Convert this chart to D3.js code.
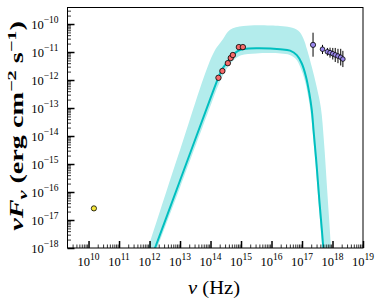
<!DOCTYPE html>
<html>
<head>
<meta charset="utf-8">
<script src="https://cdn.jsdelivr.net/npm/d3@7"></script>
<style>
  body { margin: 0; background: #ffffff; }
  svg { display: block; }
</style>
</head>
<body>
<svg id="chart"></svg>
<script>
// model curve (nu in Hz, nuFnu in erg cm^-2 s^-1)
const modelNu = [1.0e12, 1.0e13, 1.0e14, 1.78e14, 2.51e14, 3.72e14, 5.37e14, 7.94e14, 1.26e15, 3.98e15,
    1.91e16, 4.07e16, 6.76e16, 9.77e16, 1.35e17, 1.74e17, 2.09e17, 2.40e17, 2.99e17, 3.76e17, 5.01e17, 6.17e17]
const modelFlux = [2.95e-19, 2.57e-16, 2.24e-13, 1.17e-12, 2.63e-12, 4.68e-12, 7.59e-12, 1.10e-11, 1.29e-11, 1.35e-11,
    1.26e-11, 1.12e-11, 7.76e-12, 3.98e-12, 1.32e-12, 3.31e-13, 8.51e-14, 1.51e-14, 1.0e-15, 4.07e-17, 1.0e-18, 3.16e-20]

// uncertainty band edges
const bandUpperNu = [8.9e11, 1.0e12, 1.0e13, 1.23e14, 2.51e14, 4.37e14, 1.2e15, 1.91e16, 4.07e16, 7.6e16,
    1.1e17, 1.48e17, 2.09e17, 3.02e17, 4.17e17, 5.25e17, 6.76e17, 8.9e17, 1.05e18]
const bandUpperFlux = [1.0e-18, 1.45e-18, 3.16e-15, 8.9e-12, 2.8e-11, 6.2e-11, 8.5e-11, 8.5e-11, 7.6e-11, 5.75e-11,
    3.1e-11, 1.17e-11, 2.95e-12, 5.75e-13, 1.0e-13, 6.3e-15, 1.0e-16, 1.0e-18, 3.16e-20]
const bandLowerNu = [1.0e12, 1.78e12, 1.0e13, 1.0e14, 1.78e14, 3.16e14, 5.62e14, 1.0e15, 3.16e15, 2.0e16,
    3.98e16, 6.3e16, 8.9e16, 1.26e17, 1.66e17, 2.0e17, 2.29e17, 2.82e17, 3.55e17, 4.57e17, 5.62e17]
const bandLowerFlux = [1.78e-19, 1.0e-18, 1.45e-16, 1.2e-13, 6.3e-13, 2.24e-12, 5.0e-12, 7.6e-12, 8.9e-12, 8.9e-12,
    7.9e-12, 5.6e-12, 2.8e-12, 8.9e-13, 2.0e-13, 5.0e-14, 1.0e-14, 7.9e-16, 3.16e-17, 1.0e-18, 3.16e-20]

// radio point
const radioNu = [1.5e10]
const radioFlux = [2.6e-17]

// optical / UV points
const optNu = [1.82e14, 2.45e14, 3.7e14, 4.6e14, 5.4e14, 8.5e14, 1.15e15]
const optFlux = [1.2e-12, 2.1e-12, 4.0e-12, 6.1e-12, 7.8e-12, 1.5e-11, 1.5e-11]

// X-ray points with errors
const xrayNu = [2.3e17, 4.7e17, 6.8e17, 8.3e17, 1.02e18, 1.23e18, 1.51e18, 1.86e18, 2.19e18]
const xrayFlux = [1.8e-11, 1.26e-11, 1.02e-11, 9.5e-12, 8.7e-12, 7.9e-12, 7.2e-12, 6.5e-12, 5.6e-12]
const xrayLow = [6.8e-12, 8.5e-12, 7.4e-12, 6.3e-12, 5.4e-12, 4.4e-12, 4.0e-12, 3.3e-12, 2.9e-12]
const xrayHigh = [4.9e-11, 1.8e-11, 1.4e-11, 1.43e-11, 1.4e-11, 1.4e-11, 1.3e-11, 1.3e-11, 1.1e-11]

// axis ticks (powers of ten)
const xTickExp = [10, 11, 12, 13, 14, 15, 16, 17, 18, 19]
const yTickExp = [-18, -17, -16, -15, -14, -13, -12, -11, -10]

let config = {}

function initConfig() {
    let width = 382
    let height = 307
    let plot = {left: 67.5, right: 363, top: 7.5, bottom: 248}
    let serif = "Liberation Serif, DejaVu Serif, serif"
    let lineColor = "#00bfbf"
    let bandColor = "#b3ecec"
    let container = d3.select("#chart")
        .attr("width", width)
        .attr("height", height)
    let x = d3.scaleLog().domain([Math.pow(10, 9.31), 1e19]).range([plot.left, plot.right])
    let y = d3.scaleLog().domain([1e-18, Math.pow(10, -9.41)]).range([plot.bottom, plot.top])
    config = {width, height, plot, serif, lineColor, bandColor, container, x, y}
}

function minorValues(exps) {
    let vals = []
    exps.forEach(e => {
        for (let k = 2; k <= 9; k++) vals.push(k * Math.pow(10, e))
    })
    return vals
}

function drawAxes() {
    let {container, plot, x, y, serif} = config

    // minor ticks
    let xMinor = minorValues([9].concat(xTickExp)).filter(v => v > x.domain()[0] && v < x.domain()[1])
    let yMinor = minorValues([-19].concat(yTickExp)).filter(v => v > y.domain()[0] && v < y.domain()[1])

    container.append("g")
        .attr("transform", `translate(0,${plot.bottom})`)
        .call(d3.axisBottom(x).tickValues(xMinor).tickSize(-3.5).tickSizeOuter(0).tickFormat(""))
        .call(g => g.select(".domain").remove())
        .selectAll("line").attr("stroke", "#000").attr("stroke-width", 0.8)

    container.append("g")
        .attr("transform", `translate(${plot.left},0)`)
        .call(d3.axisLeft(y).tickValues(yMinor).tickSize(-3.5).tickSizeOuter(0).tickFormat(""))
        .call(g => g.select(".domain").remove())
        .selectAll("line").attr("stroke", "#000").attr("stroke-width", 0.8)

    // major ticks
    container.append("g")
        .attr("transform", `translate(0,${plot.bottom})`)
        .call(d3.axisBottom(x).tickValues(xTickExp.map(e => Math.pow(10, e))).tickSize(-7).tickSizeOuter(0).tickFormat(""))
        .call(g => g.select(".domain").remove())
        .selectAll("line").attr("stroke", "#000").attr("stroke-width", 1.5)

    container.append("g")
        .attr("transform", `translate(${plot.left},0)`)
        .call(d3.axisLeft(y).tickValues(yTickExp.map(e => Math.pow(10, e))).tickSize(-7).tickSizeOuter(0).tickFormat(""))
        .call(g => g.select(".domain").remove())
        .selectAll("line").attr("stroke", "#000").attr("stroke-width", 1.5)

    // frame
    container.append("rect")
        .attr("x", plot.left)
        .attr("y", plot.top)
        .attr("width", plot.right - plot.left)
        .attr("height", plot.bottom - plot.top)
        .attr("fill", "none")
        .attr("stroke", "#000")
        .attr("stroke-width", 1)

    // x tick labels
    let xl = container.append("g").selectAll("text").data(xTickExp).join("text")
        .attr("x", d => x(Math.pow(10, d)))
        .attr("y", plot.bottom + 17.5)
        .attr("text-anchor", "middle")
        .attr("font-family", serif)
        .attr("font-size", "12.5px")
        .attr("fill", "#000")
    xl.append("tspan").text("10")
    xl.append("tspan").attr("dy", -5.5).attr("font-size", "9.5px").text(d => String(d))

    // y tick labels
    let yl = container.append("g").selectAll("text").data(yTickExp).join("text")
        .attr("x", plot.left - 9)
        .attr("y", d => y(Math.pow(10, d)) + 4.5)
        .attr("text-anchor", "end")
        .attr("font-family", serif)
        .attr("font-size", "12.5px")
        .attr("fill", "#000")
    yl.append("tspan").text("10")
    yl.append("tspan").attr("dy", -5.5).attr("font-size", "9.5px").text(d => "\u2212" + Math.abs(d))
}

function drawModel() {
    let {container, plot, x, y, lineColor, bandColor} = config

    container.append("clipPath").attr("id", "plotClip")
        .append("rect")
        .attr("x", plot.left).attr("y", plot.top)
        .attr("width", plot.right - plot.left).attr("height", plot.bottom - plot.top)

    let g = container.append("g").attr("clip-path", "url(#plotClip)")

    let line = d3.line()
        .x(d => x(d[0]))
        .y(d => y(d[1]))
        .curve(d3.curveCatmullRom.alpha(0.5))

    let upper = bandUpperNu.map((v, i) => [v, bandUpperFlux[i]])
    let lower = bandLowerNu.map((v, i) => [v, bandLowerFlux[i]])
    let bandPath = line(upper) + "L" + line(lower.slice().reverse()).slice(1) + "Z"

    g.append("path")
        .attr("d", bandPath)
        .attr("fill", bandColor)
        .attr("stroke", "none")

    g.append("path")
        .attr("d", line(modelNu.map((v, i) => [v, modelFlux[i]])))
        .attr("fill", "none")
        .attr("stroke", lineColor)
        .attr("stroke-width", 2)
}

function drawPoints() {
    let {container, x, y} = config

    // x-ray error bars
    container.append("g").selectAll("line").data(xrayNu).join("line")
        .attr("x1", d => x(d)).attr("x2", d => x(d))
        .attr("y1", (d, i) => y(xrayLow[i]))
        .attr("y2", (d, i) => y(xrayHigh[i]))
        .attr("stroke", "#000")
        .attr("stroke-width", 1)

    container.append("g").selectAll("circle").data(radioNu).join("circle")
        .attr("cx", d => x(d)).attr("cy", (d, i) => y(radioFlux[i]))
        .attr("r", 2.6)
        .attr("fill", "#f5e63a").attr("stroke", "#000").attr("stroke-width", 0.8)

    container.append("g").selectAll("circle").data(optNu).join("circle")
        .attr("cx", d => x(d)).attr("cy", (d, i) => y(optFlux[i]))
        .attr("r", 2.7)
        .attr("fill", "#f66a6a").attr("stroke", "#000").attr("stroke-width", 0.8)

    container.append("g").selectAll("circle").data(xrayNu).join("circle")
        .attr("cx", d => x(d)).attr("cy", (d, i) => y(xrayFlux[i]))
        .attr("r", (d, i) => i === 0 ? 2.6 : 2.3)
        .attr("fill", "#9a88ee").attr("stroke", "#000").attr("stroke-width", 0.8)
}

// stretch a label along its reading direction so it covers the same length as the reference
function fitLength(sel, target, cx, cy, angle, maxCross) {
    let len = sel.node().getComputedTextLength()
    let s = target / len
    sel.attr("transform", `translate(${cx},${cy}) rotate(${angle}) scale(${s},${Math.min(s, maxCross)})`)
}

function drawLabels() {
    let {container, serif} = config

    let xlab = container.append("text")
        .attr("text-anchor", "middle")
        .attr("font-family", serif)
        .attr("font-size", "18px")
        .attr("fill", "#000")
    xlab.append("tspan").attr("font-style", "italic").text("\u03bd")
    xlab.append("tspan").text(" (Hz)")
    fitLength(xlab, 52, 214, 294, 0, 1.1)

    let ylab = container.append("text")
        .attr("text-anchor", "middle")
        .attr("font-family", serif)
        .attr("font-size", "18px")
        .attr("font-weight", "bold")
        .attr("fill", "#000")
    ylab.append("tspan").attr("font-style", "italic").text("\u03bdF")
    ylab.append("tspan").attr("font-style", "italic").attr("font-size", "13px").attr("dy", 4).text("\u03bd")
    ylab.append("tspan").attr("dy", -4).text(" (erg cm")
    ylab.append("tspan").attr("font-size", "13px").attr("dy", -7).text("\u22122")
    ylab.append("tspan").attr("dy", 7).text(" s")
    ylab.append("tspan").attr("font-size", "13px").attr("dy", -7).text("\u22121")
    ylab.append("tspan").attr("dy", 7).text(")")
    fitLength(ylab, 210, 23, 126, -90, 1.0)
}

function showChart() {
    initConfig()
    drawModel()
    drawAxes()
    drawPoints()
    drawLabels()
}

window.addEventListener("load", showChart)
</script>
</body>
</html>
